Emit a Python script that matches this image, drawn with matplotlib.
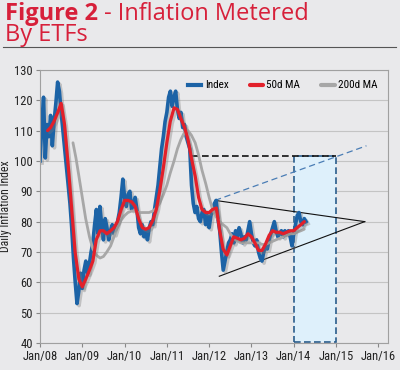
import numpy as np
import matplotlib
matplotlib.use("Agg")
import matplotlib.pyplot as plt
import matplotlib.patheffects as pe
from matplotlib.patches import Rectangle
from matplotlib import font_manager

# ---------------- data ----------------
index_start = 2008.0
index_step = 1 / 24  # semi-monthly samples
index_values = [
    100, 112, 121, 101, 112, 108, 115, 105, 113, 119, 126, 123, 116, 110, 104, 98,
    92, 86, 78, 68, 60, 53, 57, 63, 58, 64, 67, 63, 66, 70, 73, 79,
    84, 76, 85, 79, 74, 81, 78, 74, 77, 79, 76, 78, 80, 83, 88, 94,
    88, 85, 89, 90, 84, 86, 88, 84, 78, 76, 79, 75, 77, 74, 78, 80,
    79, 84, 88, 92, 98, 104, 108, 113, 116, 121, 123, 118, 121, 123, 117, 114,
    116, 111, 112, 108, 106, 104, 92, 86, 83, 85, 81, 80, 83, 84, 79, 82,
    78, 82, 84, 86, 87, 81, 77, 70, 64, 67, 70, 73, 74, 76, 73, 77,
    75, 78, 76, 73, 75, 74, 77, 80, 76, 73, 72, 74, 70, 68, 67, 70,
    72, 71, 74, 76, 78, 80, 77, 75, 76, 77, 75, 77, 76, 77, 75, 72,
    76, 79, 82, 83, 80, 79, 81, 80,
]

ma50_years = [
    2008.18, 2008.25, 2008.33, 2008.42, 2008.50, 2008.58, 2008.67, 2008.75, 2008.83, 2008.92,
    2009.00, 2009.08, 2009.17, 2009.25, 2009.33, 2009.42, 2009.50, 2009.58, 2009.67, 2009.75,
    2009.83, 2009.92, 2010.00, 2010.08, 2010.17, 2010.25, 2010.33, 2010.42, 2010.50, 2010.58,
    2010.67, 2010.75, 2010.83, 2010.92, 2011.00, 2011.08, 2011.17, 2011.25, 2011.33, 2011.42,
    2011.50, 2011.58, 2011.67, 2011.75, 2011.83, 2011.92, 2012.00, 2012.08, 2012.17, 2012.25,
    2012.33, 2012.42, 2012.50, 2012.58, 2012.67, 2012.75, 2012.83, 2012.92, 2013.00, 2013.08,
    2013.17, 2013.25, 2013.33, 2013.42, 2013.50, 2013.58, 2013.67, 2013.75, 2013.83, 2013.92,
    2014.00, 2014.08, 2014.17, 2014.25,
]
ma50_values = [
    110, 111, 113, 116, 119, 112, 98, 84, 70, 61,
    58.5, 61, 64, 67, 74, 77, 77, 76, 77, 78,
    80, 84, 87, 87, 86.5, 85, 81, 78, 77.5, 78,
    80.5, 84, 90, 98, 106, 113, 117.5, 117, 114, 111,
    107, 101, 95, 88, 84, 83, 83, 84, 84.5, 77,
    71, 69, 72, 75, 74.5, 74, 74.5, 76, 75, 73,
    70.5, 70.5, 72.5, 75.5, 77, 76.5, 76.5, 76, 76.5, 77,
    77, 78, 79, 80,
]

ma200_years = [
    2008.78, 2008.85, 2008.92, 2009.00, 2009.08, 2009.17, 2009.25, 2009.33, 2009.42, 2009.50,
    2009.58, 2009.67, 2009.75, 2009.83, 2009.92, 2010.00, 2010.08, 2010.17, 2010.25, 2010.33,
    2010.42, 2010.50, 2010.58, 2010.67, 2010.75, 2010.83, 2010.92, 2011.00, 2011.08, 2011.17,
    2011.25, 2011.33, 2011.42, 2011.50, 2011.58, 2011.67, 2011.75, 2011.83, 2011.92, 2012.00,
    2012.08, 2012.17, 2012.25, 2012.33, 2012.42, 2012.50, 2012.58, 2012.67, 2012.75, 2012.83,
    2012.92, 2013.00, 2013.08, 2013.17, 2013.25, 2013.33, 2013.42, 2013.50, 2013.58, 2013.67,
    2013.75, 2013.83, 2013.92, 2014.00, 2014.08, 2014.17, 2014.25,
]
ma200_values = [
    106, 101, 95, 88, 81, 75, 71, 69, 68, 68.5,
    70, 72, 75, 78, 80.5, 82, 83, 83.5, 83.5, 83,
    83, 83, 83, 83.5, 84.5, 86, 89, 92, 96, 100,
    104, 107, 109.5, 110, 108.5, 106, 102, 97, 92.5, 88,
    84, 81.5, 80, 79, 78, 76, 74.5, 73.5, 73, 73,
    73, 73, 73, 73, 72.5, 72.5, 73, 73.5, 74, 74.5,
    75, 75.5, 76, 76, 76.5, 77, 77.5,
]

# annotation geometry (data units)
resistance_level = 101.5
resistance_x = [2011.6, 2015.0]
target_box_x = [2014.0, 2015.0]
channel_x = [2012.14, 2015.72]
channel_y = [87, 105]
tri_upper_x = [2012.14, 2015.68]
tri_upper_y = [87, 80]
tri_lower_x = [2012.24, 2015.68]
tri_lower_y = [62, 80]

year_ticks = list(range(2008, 2017))
year_labels = ["Jan/08", "Jan/09", "Jan/10", "Jan/11", "Jan/12",
               "Jan/13", "Jan/14", "Jan/15", "Jan/16"]
y_ticks = list(range(40, 131, 10))

# ---------------- style ----------------
BG = "#e9e9eb"
BLUE = "#1c63a6"
RED = "#e2202a"
GRAY = "#a7a7a7"
TITLE_RED = "#d7203a"

installed = {f.name for f in font_manager.fontManager.ttflist}
cond_name = None
for cand in ["Liberation Sans Narrow", "Roboto Condensed", "Open Sans Condensed",
             "DejaVu Sans Condensed", "Roboto"]:
    if cand in installed:
        cond_name = cand
        break
COND = [cond_name, "DejaVu Sans"] if cond_name else ["DejaVu Sans"]
TITLE_FONT = ["Open Sans", "DejaVu Sans"]

fig = plt.figure(figsize=(4.0, 3.7), dpi=100, facecolor=BG)
ax = fig.add_axes([0.10, 0.073, 0.87, 0.738], facecolor=BG)

idx_x = index_start + np.arange(len(index_values)) * index_step

shadow = [pe.SimpleLineShadow(offset=(1.5, -1.5), shadow_color="#777777", alpha=0.35), pe.Normal()]

# target box
ax.add_patch(Rectangle((target_box_x[0], 40.4), target_box_x[1] - target_box_x[0],
                       resistance_level - 40.4, facecolor="#def0fb", edgecolor="#2a5d8c",
                       linestyle=(0, (4, 2)), linewidth=1.2, zorder=1))
ax.plot(resistance_x, [resistance_level, resistance_level], color="#111111",
        linestyle=(0, (4, 2)), linewidth=1.2, zorder=1.5)
ax.plot(channel_x, channel_y, color="#4a7db5", linestyle=(0, (5, 3)), linewidth=0.9, zorder=1.5)
ax.plot(tri_upper_x, tri_upper_y, color="#111111", linewidth=0.8, zorder=1.5)
ax.plot(tri_lower_x, tri_lower_y, color="#111111", linewidth=0.8, zorder=1.5)

ax.plot(idx_x, index_values, color=BLUE, linewidth=2.6, label="Index", zorder=2,
        path_effects=shadow, solid_joinstyle="round")
ax.plot(ma50_years, ma50_values, color=RED, linewidth=2.3, label="50d MA", zorder=4,
        path_effects=shadow, solid_capstyle="round")
ax.plot(ma200_years, ma200_values, color=GRAY, linewidth=2.0, label="200d MA", zorder=3,
        solid_capstyle="round")

ax.set_xlim(2008.0, 2016.23)
ax.set_ylim(40, 130)
ax.set_xticks(year_ticks)
ax.set_xticklabels(year_labels, family=COND, fontsize=9, color="#222222")
ax.set_yticks(y_ticks)
ax.set_yticklabels([str(v) for v in y_ticks], family=COND, fontsize=9, color="#222222")
ax.tick_params(axis="both", length=3, width=0.8, color="#888888", pad=2)
ax.grid(axis="y", color="#c4c4c4", linewidth=0.8, zorder=0)
ax.set_axisbelow(True)
for s in ax.spines.values():
    s.set_color("#a0a0a0")
    s.set_linewidth(0.8)
ax.set_ylabel("Daily Inflation Index", family=COND, fontsize=8.5, color="#222222", labelpad=2)

leg = ax.legend(loc="upper right", ncol=3, frameon=False, handlelength=1.2,
                handletextpad=0.3, columnspacing=1.9, prop={"family": COND, "size": 8},
                bbox_to_anchor=(1.0, 1.0), borderaxespad=0.55)
for h in leg.get_lines():
    h.set_linewidth(3)
    h.set_path_effects([])

# title
fig.canvas.draw()
t1 = fig.text(0.012, 0.945, "Figure 2", fontsize=17, fontweight="bold", family=TITLE_FONT,
              color=TITLE_RED, va="baseline")
fig.canvas.draw()
bb = t1.get_window_extent()
x2 = (bb.x1 + 6) / fig.bbox.width
fig.text(x2, 0.945, "- Inflation Metered", fontsize=17, family=TITLE_FONT,
         color=TITLE_RED, va="baseline")
fig.text(0.012, 0.889, "By ETFs", fontsize=17, family=TITLE_FONT, color=TITLE_RED, va="baseline")
fig.add_artist(plt.Line2D([0.008, 0.99], [0.872, 0.872], color="#555555", linewidth=0.8))

fig.savefig("out.png", dpi=100, facecolor=BG)
